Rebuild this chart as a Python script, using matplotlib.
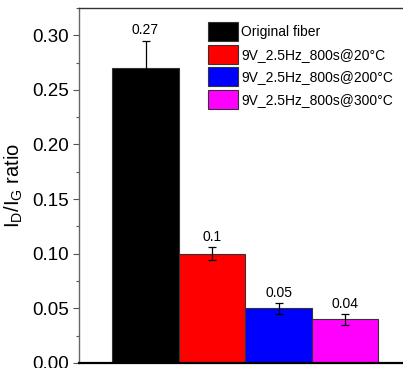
import matplotlib; matplotlib.use('Agg')
import matplotlib.pyplot as plt
from matplotlib.ticker import MultipleLocator

plt.rcParams['font.family'] = ['Liberation Sans Narrow', 'Liberation Sans', 'DejaVu Sans']
plt.rcParams['mathtext.fontset'] = 'custom'
plt.rcParams['mathtext.rm'] = 'Liberation Sans'

labels = ['Original fiber', '9V_2.5Hz_800s@20°C', '9V_2.5Hz_800s@200°C', '9V_2.5Hz_800s@300°C']
values = [0.27, 0.10, 0.05, 0.04]
errors = [0.025, 0.006, 0.005, 0.005]
value_text = ['0.27', '0.1', '0.05', '0.04']
colors = ['#000000', '#ff0000', '#0000ff', '#ff00ff']

fig = plt.figure(figsize=(4.03, 3.68), dpi=100)
ax = fig.add_axes([0.196, 0.0136, 0.804, 0.965])

xs = [1, 2, 3, 4]
for i, x in enumerate(xs):
    v, e = values[i], errors[i]
    ax.bar(x, v, width=1.0, color=colors[i], edgecolor='#333333', linewidth=0.8, label=labels[i], zorder=2)
    ax.errorbar(x, v, yerr=e, fmt='none', ecolor='black', elinewidth=0.9, capsize=3, capthick=0.9, zorder=3)
    ax.text(x, v + e + 0.003, value_text[i], ha='center', va='bottom', fontsize=10)

ax.set_xlim(0, 4.87)
ax.set_ylim(0, 0.325)
ax.yaxis.set_major_locator(MultipleLocator(0.05))
ax.yaxis.set_minor_locator(MultipleLocator(0.025))
ax.yaxis.set_major_formatter(plt.FuncFormatter(lambda v, p: f'{v:.2f}'))
ax.tick_params(axis='y', which='major', length=4, width=0.8, labelsize=13.5, direction='out', colors='#555555', labelcolor='black')
ax.tick_params(axis='y', which='minor', length=2.5, width=0.8, direction='out', colors='#555555')
ax.set_xticks([])

ax.spines['right'].set_visible(False)
ax.spines['left'].set_color('#666666')
ax.spines['left'].set_linewidth(1.0)
ax.spines['top'].set_color('#333333')
ax.spines['top'].set_linewidth(1.0)
ax.spines['bottom'].set_linewidth(1.6)

ax.set_ylabel(r'I$_\mathregular{D}$/I$_\mathregular{G}$ ratio', fontsize=14.5, labelpad=5)

ax.legend(loc='upper left', bbox_to_anchor=(0.376, 0.98), frameon=False, fontsize=10,
          handlelength=2.2, handleheight=1.75, handletextpad=0.2, labelspacing=0.25, borderpad=0)

fig.savefig('out.png', dpi=100)
